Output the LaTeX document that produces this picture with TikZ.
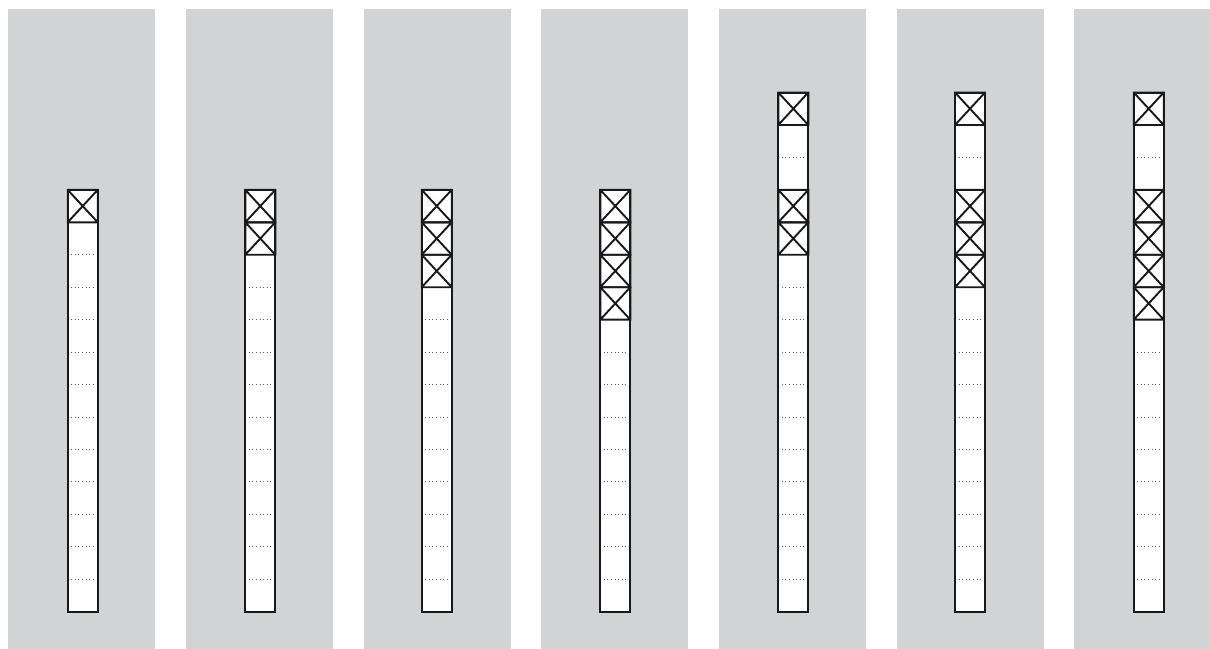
\documentclass[tikz,border=0pt]{standalone}
\definecolor{panel}{RGB}{209,211,212}
\definecolor{dotc}{RGB}{90,90,90}
\tikzset{
  panelbg/.style={fill=panel},
  colframe/.style={draw=black!90, line width=2pt},
  xcell/.style={draw=black!90, line width=1.9pt},
  sep/.style={draw=dotc, line width=1pt, dash pattern=on 1pt off 2.6pt}
}
\begin{document}
\begin{tikzpicture}[x=1pt,y=-1pt]
\useasboundingbox (0,0) rectangle (1210,648);
\clip (0,0) rectangle (1210,648);
\fill[white] (0,0) rectangle (1210,648);
\foreach \L/\cx/\n/\xs/\m/\e [count=\p] in {8/67.7/13/{1}/1/0, 186/245.3/13/{1,2}/2/0, 364/421.7/13/{1,2,3}/3/0, 541/600.3/13/{1,2,3,4}/4/0, 719/778.3/16/{1,4,5}/5/2, 897/955/16/{1,4,5,6}/6/2, 1074/1133.7/16/{1,4,5,6,7}/7/2}{
  \fill[panelbg] (\L,9) rectangle ++(147,660);
  \pgfmathsetmacro\ty{611.7-\n*32.45}
  \coordinate (col\p-top) at (\cx,\ty);
  \coordinate (col\p-bot) at (\cx+30,611.7);
  \fill[white] (col\p-top) rectangle (col\p-bot);
  \pgfmathtruncatemacro\a{\m+1}
  \pgfmathtruncatemacro\b{\n-1}
  \foreach \k in {\a,...,\b}{
    \draw[sep] (\cx+3.5,\ty+\k*32.45) -- (\cx+27.5,\ty+\k*32.45);
  }
  \ifnum\e>0
    \draw[sep] (\cx+3.5,\ty+\e*32.45) -- (\cx+27.5,\ty+\e*32.45);
  \fi
  \foreach \k in \xs {
    \draw[xcell] (\cx,\ty+\k*32.45-32.45) rectangle (\cx+30,\ty+\k*32.45)
      (\cx,\ty+\k*32.45-32.45) -- (\cx+30,\ty+\k*32.45)
      (\cx+30,\ty+\k*32.45-32.45) -- (\cx,\ty+\k*32.45);
  }
  \draw[colframe] (col\p-top) rectangle (col\p-bot);
}
\end{tikzpicture}
\end{document}
